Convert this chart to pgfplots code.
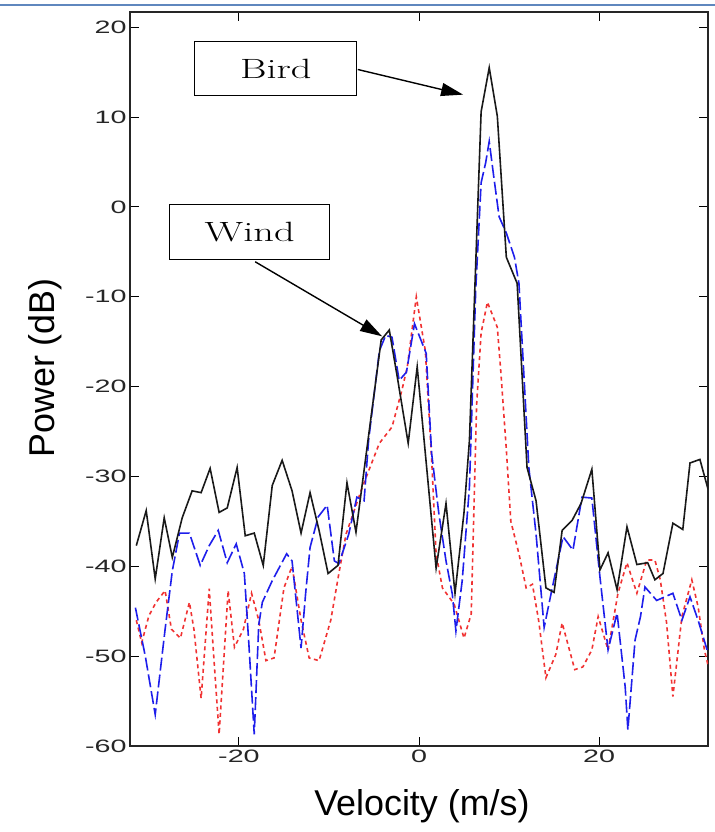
\documentclass[border=0pt]{standalone}
\usepackage{pgfplots}
\pgfplotsset{compat=1.18}
\usepackage{fontspec}
\newfontfamily\arial{Liberation Sans}
\usetikzlibrary{arrows.meta}
\newcommand\sx[1]{\scalebox{1.6}[1]{#1}}
\definecolor{myblue}{RGB}{30,30,235}
\definecolor{myred}{RGB}{240,50,50}
\definecolor{slideblue}{RGB}{95,135,190}
\begin{document}
\begin{tikzpicture}
\path[use as bounding box] (0,0) rectangle (715bp,832bp);
\draw[slideblue, line width=2bp] (0,827bp) -- (715bp,827bp);
\begin{axis}[
  at={(130bp,86bp)}, anchor=south west,
  width=578bp, height=734bp, scale only axis,
  xmin=-32.1, xmax=32.1, ymin=-60, ymax=21.7,
  xtick={-20,0,20}, xticklabels={\sx{-20},\sx{0},\sx{20}},
  ytick={-60,-50,-40,-30,-20,-10,0,10,20},
  yticklabels={\sx{-60},\sx{-50},\sx{-40},\sx{-30},\sx{-20},\sx{-10},\sx{0},\sx{10},\sx{20}},
  tick align=inside, major tick length=9bp,
  tick style={black, line width=0.9bp},
  axis line style={line width=1.1bp, black!85},
  ticklabel style={font=\arial\fontsize{18}{18}\selectfont, text=black!85},
  xlabel={Velocity (m/s)}, ylabel={Power (dB)},
  every axis x label/.style={at={(axis description cs:0.505,-0.082)}, anchor=center, font=\arial\fontsize{36}{36}\selectfont},
  every axis y label/.style={at={(axis description cs:-0.147,0.515)}, anchor=center, rotate=90, font=\arial\fontsize{36}{36}\selectfont},
  clip=true,
]
% red dotted
\addplot[myred, line width=1.6bp, dash pattern=on 4bp off 3.5bp] coordinates {
(-31.4,-46.0) (-30.8,-48.5) (-30.0,-45.5) (-29.2,-44.0) (-28.2,-42.7) (-27.5,-47.0)
(-26.5,-48.0) (-25.5,-44.0) (-25.0,-47.0) (-24.2,-54.7) (-23.3,-42.5) (-22.8,-50.0)
(-22.2,-58.7) (-21.2,-42.7) (-20.5,-49.0) (-19.5,-47.0) (-18.6,-43.0) (-17.8,-46.0)
(-17.0,-50.5) (-16.1,-50.2) (-15.0,-42.4) (-14.1,-40.0) (-13.1,-46.0) (-12.2,-50.2)
(-11.1,-50.5) (-9.8,-46.0) (-8.9,-40.8) (-8.1,-36.4) (-6.3,-31.2) (-4.4,-26.3)
(-3.0,-24.5) (-1.9,-20.4) (-1.3,-17.8) (-0.3,-10.0) (0.7,-16.0) (1.4,-28.0)
(1.9,-38.6) (2.6,-42.4) (3.9,-44.2) (5.0,-48.0) (5.8,-45.3) (6.4,-22.0)
(6.9,-14.0) (7.6,-10.6) (8.7,-13.4) (9.1,-18.5) (9.7,-27.0) (10.2,-35.0)
(11.1,-38.6) (11.9,-42.4) (12.6,-42.0) (13.3,-46.1) (14.1,-52.4) (15.2,-49.8)
(15.9,-46.3) (17.3,-51.5) (18.2,-51.2) (19.2,-49.3) (19.9,-45.6) (21.0,-49.3)
(22.1,-43.0) (23.1,-39.6) (24.2,-43.0) (25.3,-39.3) (26.2,-39.3) (26.8,-41.5)
(27.5,-46.3) (28.2,-54.5) (29.2,-45.6) (30.3,-41.5) (31.0,-44.5) (31.7,-49.3) (32.1,-51.0)
};
% blue dashed
\addplot[myblue, line width=1.6bp, dash pattern=on 13bp off 4bp] coordinates {
(-31.5,-44.6) (-30.4,-50.0) (-29.3,-56.5) (-28.2,-47.0) (-27.4,-40.5) (-26.6,-36.3)
(-25.5,-36.3) (-24.3,-39.9) (-23.3,-37.7) (-22.3,-36.0) (-21.3,-39.6) (-20.3,-37.5)
(-19.4,-40.8) (-18.9,-48.6) (-18.3,-58.7) (-17.8,-46.5) (-17.4,-44.0) (-16.3,-41.6)
(-14.7,-38.6) (-14.1,-39.4) (-13.1,-49.1) (-12.6,-43.1) (-12.1,-37.9) (-11.2,-34.5)
(-10.2,-33.2) (-9.4,-39.4) (-8.9,-39.7) (-7.8,-36.4) (-6.9,-32.3) (-6.1,-32.7)
(-5.6,-26.0) (-4.4,-16.0) (-3.7,-14.3) (-3.0,-14.5) (-2.2,-19.3) (-1.4,-18.4)
(-0.5,-13.0) (0.8,-16.3) (1.4,-27.4) (2.2,-34.1) (3.0,-39.4) (3.7,-43.1)
(4.1,-47.2) (4.8,-41.6) (5.6,-31.2) (6.3,-9.2) (6.9,2.7) (7.4,4.9)
(7.8,7.3) (8.3,3.4) (8.9,-1.1) (9.7,-2.9) (10.6,-5.6) (11.1,-8.5)
(11.7,-19.6) (12.2,-29.0) (13.0,-36.4) (13.9,-46.8) (14.8,-42.4) (16.0,-36.7)
(17.1,-38.2) (18.1,-32.3) (19.2,-32.4) (20.1,-41.2) (21.0,-49.3) (22.0,-45.2)
(22.9,-53.4) (23.2,-58.2) (24.0,-48.2) (24.6,-45.6) (25.1,-42.3) (26.4,-43.8)
(28.2,-43.0) (29.2,-46.0) (30.1,-43.4) (31.0,-46.0) (32.0,-49.3)
};
% black solid
\addplot[black!90, line width=1.6bp] coordinates {
(-31.4,-37.7) (-30.3,-33.8) (-29.3,-41.4) (-28.3,-34.6) (-27.4,-39.0) (-26.3,-34.6)
(-25.2,-31.6) (-24.2,-31.8) (-23.2,-29.1) (-22.2,-34.0) (-21.3,-33.5) (-20.2,-29.0)
(-19.3,-36.6) (-18.3,-36.3) (-17.3,-39.9) (-16.3,-31.0) (-15.2,-28.2) (-14.1,-31.6)
(-13.1,-36.3) (-12.1,-31.8) (-11.1,-36.0) (-10.1,-40.8) (-9.0,-39.9) (-8.0,-30.7)
(-7.0,-36.2) (-5.8,-27.0) (-4.2,-14.8) (-3.3,-13.7) (-2.4,-19.0) (-1.2,-26.3)
(-0.2,-17.8) (1.9,-40.2) (3.0,-33.0) (4.0,-43.0) (5.0,-34.0) (5.6,-26.0)
(6.9,10.6) (7.8,15.5) (8.7,10.1) (9.7,-5.6) (10.9,-8.5) (12.0,-29.0)
(13.0,-32.7) (14.1,-42.4) (15.0,-42.9) (15.9,-36.0) (17.0,-34.9) (18.0,-33.0)
(19.2,-29.2) (20.1,-40.4) (21.0,-38.5) (22.0,-42.6) (23.1,-35.6) (24.2,-39.8)
(25.4,-39.6) (26.2,-41.5) (27.1,-40.8) (28.2,-35.2) (29.3,-35.9) (30.1,-28.5)
(31.2,-28.1) (32.1,-31.4)
};
% annotations
\node[draw, line width=1bp, fill=white, minimum width=162bp, minimum height=54bp, inner sep=0pt]
  at (axis cs:-15.9,15.4) {\scalebox{1.45}[1]{\fontsize{28}{28}\selectfont Bird}};
\draw[line width=1.4bp, -{Triangle[length=22bp,width=13bp]}] (axis cs:-6.8,15.3) -- (axis cs:4.9,12.5);
\node[draw, line width=1bp, fill=white, minimum width=160bp, minimum height=55bp, inner sep=0pt]
  at (axis cs:-18.8,-2.8) {\scalebox{1.45}[1]{\fontsize{28}{28}\selectfont Wind}};
\draw[line width=1.4bp, -{Triangle[length=22bp,width=13bp]}] (axis cs:-18.2,-6.1) -- (axis cs:-4.1,-14.4);
\end{axis}
\end{tikzpicture}
\end{document}
